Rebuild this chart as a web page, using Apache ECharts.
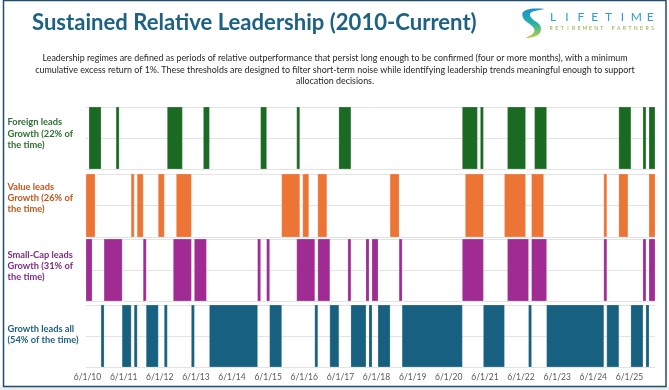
<!DOCTYPE html>
<html>
<head>
<meta charset="utf-8">
<script src="https://cdn.jsdelivr.net/npm/echarts@6/dist/echarts.min.js"></script>
<style>
html,body{margin:0;padding:0;background:#ffffff;}
#chart{width:669px;height:390px;}
</style>
</head>
<body>
<div id="chart"></div>
<script>
// ---------- data ----------
const startMonth = '2010-06';
const endMonth = '2026-02';
const tickLabels = ['6/1/10','6/1/11','6/1/12','6/1/13','6/1/14','6/1/15','6/1/16','6/1/17','6/1/18','6/1/19','6/1/20','6/1/21','6/1/22','6/1/23','6/1/24','6/1/25'];

const seriesNames = ['Foreign leads Growth', 'Value leads Growth', 'Small-Cap leads Growth', 'Growth leads all'];
const panelLabels = [
  ['Foreign leads', 'Growth (22% of', 'the time)'],
  ['Value leads', 'Growth (26% of', 'the time)'],
  ['Small-Cap leads', 'Growth (31% of', 'the time)'],
  ['Growth leads all', '(54% of the time)']
];

// leadership regimes: [first month, last month]
const foreignRuns = [
  ['2010-07','2010-10'],['2011-04','2011-04'],['2012-09','2013-01'],['2013-09','2013-10'],
  ['2015-04','2015-05'],['2016-04','2016-04'],['2017-06','2017-09'],['2020-11','2021-03'],
  ['2021-05','2021-05'],['2022-02','2022-07'],['2022-11','2023-02'],['2025-03','2025-06'],
  ['2025-11','2025-11'],['2026-01','2026-02']
];
const valueRuns = [
  ['2010-06','2010-08'],['2011-09','2011-09'],['2011-11','2011-12'],['2012-06','2012-07'],
  ['2012-12','2013-04'],['2015-11','2016-04'],['2016-06','2016-07'],['2016-11','2017-01'],
  ['2018-11','2019-01'],['2020-12','2021-05'],['2022-01','2022-07'],['2022-10','2023-01'],
  ['2024-10','2024-10'],['2025-03','2025-05'],['2026-01','2026-02']
];
const smallCapRuns = [
  ['2010-06','2010-07'],['2010-12','2011-05'],['2012-01','2012-01'],['2012-11','2013-04'],
  ['2013-06','2013-09'],['2015-03','2015-03'],['2015-06','2015-06'],['2016-04','2016-09'],
  ['2016-11','2017-02'],['2017-09','2017-09'],['2018-03','2018-03'],['2018-05','2018-06'],
  ['2019-02','2019-02'],['2020-11','2021-05'],['2022-02','2022-08'],['2022-10','2023-02'],
  ['2024-10','2024-10'],['2025-11','2025-11'],['2026-01','2026-02']
];
const growthRuns = [
  ['2010-11','2010-11'],['2011-06','2011-08'],['2011-10','2011-10'],['2012-02','2012-05'],
  ['2012-08','2012-08'],['2013-05','2013-05'],['2013-11','2015-02'],['2015-07','2015-10'],
  ['2016-10','2016-10'],['2017-03','2017-05'],['2017-10','2018-02'],['2018-04','2018-04'],
  ['2018-07','2018-10'],['2019-03','2020-10'],['2021-06','2021-12'],['2022-09','2022-09'],
  ['2023-03','2024-09'],['2024-11','2025-02'],['2025-07','2025-10'],['2025-12','2025-12']
];

const colors = ['#1b6a24', '#ec7434', '#a02b93', '#17607f'];
const labelColors = ['#2e7031', '#c0561a', '#7e2a84', '#1d5f80'];

// ---------- build ----------
function monthIndex(ym){ const p = ym.split('-').map(Number); const s = startMonth.split('-').map(Number); return (p[0]-s[0])*12 + (p[1]-s[1]); }
const categories = [];
for (let i = 0; i <= monthIndex(endMonth); i++) {
  const s = startMonth.split('-').map(Number);
  const t = s[0]*12 + (s[1]-1) + i;
  const y = Math.floor(t/12), m = t%12 + 1;
  categories.push(y + '-' + String(m).padStart(2,'0'));
}
const allRuns = [foreignRuns, valueRuns, smallCapRuns, growthRuns];

const gridTops = [107, 174, 239, 305];
const gridHeights = [62, 63, 62, 62];

function fitSize(text, weight, family, target){
  const c = document.createElement('canvas').getContext('2d');
  c.font = weight + ' 100px ' + family;
  return 100 * target / c.measureText(text).width;
}
const titleText = 'Sustained Relative Leadership (2010-Current)';
const descLines = [
  'Leadership regimes are defined as periods of relative outperformance that persist long enough to be confirmed (four or more months), with a minimum',
  'cumulative excess return of 1%. These thresholds are designed to filter short-term noise while identifying leadership trends meaningful enough to support',
  'allocation decisions.'
];
const titleSize = fitSize(titleText, 'bold', 'Lato', 445);
const descSize = fitSize(descLines[0], 'normal', 'Lato', 585);

const chart = echarts.init(document.getElementById('chart'), null, {renderer:'canvas'});

const grids = [], xAxes = [], yAxes = [], series = [];
for (let k = 0; k < 4; k++) {
  grids.push({left: 86, right: 14, top: gridTops[k], height: gridHeights[k], containLabel: false});
  xAxes.push({
    type: 'category', gridIndex: k, data: categories, boundaryGap: true,
    axisLine: {show: false}, axisTick: {show: false},
    axisLabel: k === 3 ? {
      show: true, interval: (idx, val) => val.endsWith('-06'),
      formatter: (val) => tickLabels[Number(val.slice(0,4)) - 2010],
      color: '#595959', fontSize: 8.5, fontFamily: 'Lato', margin: 6
    } : {show: false},
    splitLine: {show: false}
  });
  yAxes.push({
    type: 'value', gridIndex: k, min: 0, max: 1, interval: 0.5,
    axisLine: {show: false}, axisTick: {show: false}, axisLabel: {show: false},
    splitLine: {show: true, lineStyle: {color: '#e3e3e3', width: 1}}
  });
  const col = colors[k];
  series.push({
    name: seriesNames[k], type: 'custom', xAxisIndex: k, yAxisIndex: k,
    data: allRuns[k].map(r => [r[0], r[1]]),
    encode: {x: [0, 1]},
    silent: true, animation: false,
    renderItem: function(params, api){
      const p0 = api.coord([api.value(0), 1]);
      const p1 = api.coord([api.value(1), 0]);
      const bw = api.size([1, 0])[0];
      return {
        type: 'rect',
        shape: {x: p0[0] - bw/2, y: p0[1], width: p1[0] - p0[0] + bw, height: p1[1] - p0[1]},
        style: {fill: col, stroke: 'rgba(255,255,255,0.35)', lineWidth: 0.6}
      };
    }
  });
}

const graphics = [];
// frame
graphics.push({type:'rect', shape:{x:0, y:387, width:669, height:3}, style:{fill:'#ececec'}, silent:true});
graphics.push({type:'rect', shape:{x:3.5, y:0.5, width:662.5, height:386}, style:{fill:'none', stroke:'#1f4e6e', lineWidth:1.5}, silent:true});
// title
graphics.push({type:'text', x:32, y:23, style:{text:titleText, fill:'#1d6183', font:'bold ' + titleSize.toFixed(2) + 'px Lato', verticalAlign:'middle', align:'left'}});
// description
const descY = [58, 70, 81.5];
descLines.forEach((t, i) => graphics.push({type:'text', x:335, y:descY[i], style:{text:t, fill:'#262626', font:descSize.toFixed(2) + 'px Lato', align:'center', verticalAlign:'middle'}}));
// panel labels
const labelStartY = [122.3, 187, 255, 328.7];
panelLabels.forEach((lines, k) => lines.forEach((t, j) => graphics.push({
  type:'text', x:7.5, y:labelStartY[k] + j*11.2,
  style:{text:t, fill:labelColors[k], font:'bold 9.3px Lato', align:'left', verticalAlign:'middle'}
})));
// logo
graphics.push({type:'polygon', shape:{smooth:0.35, points:[[523,12],[530,9],[538,8.5],[544,9],[537,10.5],[531,12.5],[530,15.5],[533,19.5],[539,24],[541,29],[539,34],[533,37],[526,37.8],[532,34.5],[534.5,30],[531.5,25.5],[525,20.5],[522.5,16]]},
  style:{fill:{type:'linear', x:0, y:0, x2:0, y2:1, colorStops:[{offset:0,color:'#1b8fd6'},{offset:0.5,color:'#27b0a6'},{offset:1,color:'#b7d23a'}]}}, silent:true});
const logoWord = 'LIFETIME';
for (let i = 0; i < logoWord.length; i++) {
  graphics.push({type:'text', x:553 + i*13.9, y:17, style:{text:logoWord[i], fill:'#2a9fd8', font:'12px Lato', align:'center', verticalAlign:'middle'}});
}
const logoSub = 'RETIREMENT PARTNERS';
for (let i = 0; i < logoSub.length; i++) {
  graphics.push({type:'text', x:551 + i*5.65, y:28, style:{text:logoSub[i], fill:'#8fae3f', font:'5.2px Lato', align:'center', verticalAlign:'middle'}});
}

chart.setOption({
  animation: false,
  backgroundColor: '#ffffff',
  grid: grids, xAxis: xAxes, yAxis: yAxes, series: series,
  graphic: graphics
});
</script>
</body>
</html>
